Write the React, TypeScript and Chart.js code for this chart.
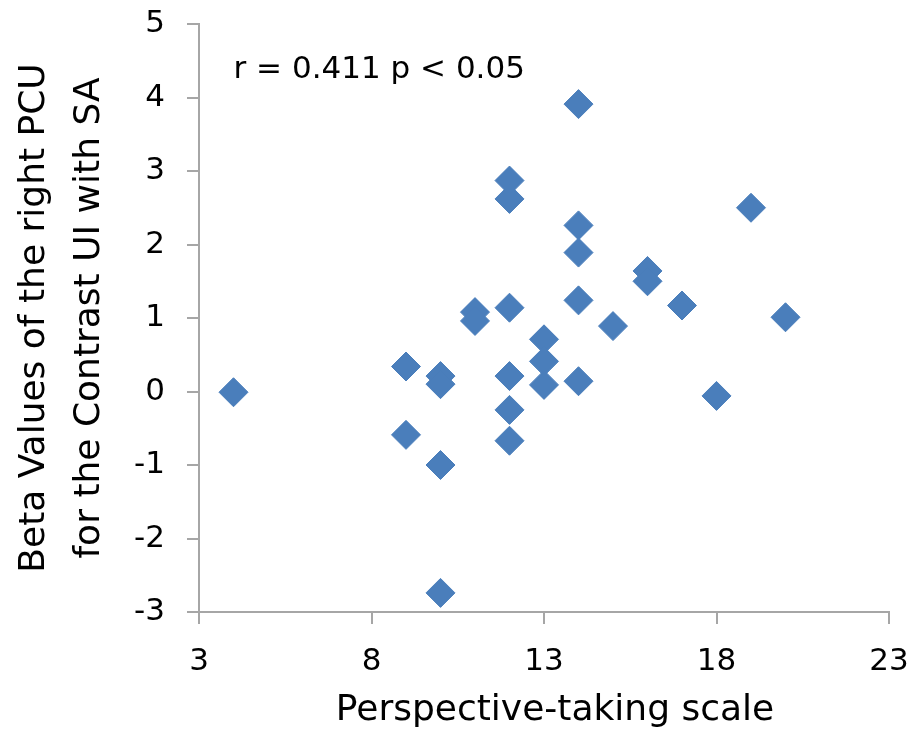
import React, { useEffect, useRef } from "react";
import { Chart, registerables } from "chart.js";

Chart.register(...registerables);

const xValues = [4, 9, 9, 10, 10, 10, 10, 11, 11, 12, 12, 12, 12, 12, 12, 13, 13, 13, 14, 14, 14, 14, 14, 15, 16, 16, 17, 18, 19, 20];
const yValues = [-0.01, 0.34, -0.59, 0.21, 0.1, -1.0, -2.74, 1.08, 0.96, 2.87, 2.62, 1.14, 0.21, -0.25, -0.67, 0.71, 0.41, 0.09, 3.91, 2.26, 1.89, 1.24, 0.14, 0.89, 1.64, 1.5, 1.17, -0.06, 2.5, 1.01];

const xAxisTitle = "Perspective-taking scale";
const yAxisTitle = ["Beta Values of the right PCU", "for the Contrast UI with SA"];
const annotationText = "r = 0.411 p < 0.05";
const annotationX = 4;
const annotationY = 4.27;

const xMin = 3, xMax = 23, xStep = 5;
const yMin = -3, yMax = 5, yStep = 1;

const FONT = "'DejaVu Sans', sans-serif";
const AXIS_COLOR = "#a6a6a6";
const POINT_COLOR = "#4a7ebb";

const textPlugin = {
  id: "extraText",
  afterDatasetsDraw(chart: any) {
    const { ctx, scales, chartArea } = chart;
    const px = scales.x.getPixelForValue(annotationX);
    const py = scales.y.getPixelForValue(annotationY);
    ctx.save();
    ctx.fillStyle = "#000";
    ctx.font = `31px ${FONT}`;
    ctx.textAlign = "left";
    ctx.textBaseline = "alphabetic";
    ctx.fillText(annotationText, px, py);
    // x-axis title, centred a little right of the plot centre as in the original
    ctx.font = `36px ${FONT}`;
    ctx.textAlign = "center";
    ctx.fillText(xAxisTitle, (chartArea.left + chartArea.right) / 2 + 11, chart.height - 10);
    ctx.restore();
  },
};

export default function App() {
  const canvasRef = useRef<HTMLCanvasElement | null>(null);

  useEffect(() => {
    document.body.style.margin = "0";
    const canvas = canvasRef.current;
    if (!canvas) return;
    const data = xValues.map((x, i) => ({ x, y: yValues[i] }));
    const chart = new Chart(canvas, {
      type: "scatter",
      data: {
        datasets: [
          {
            data,
            pointStyle: "rectRot",
            pointRadius: 14.5,
            pointHoverRadius: 14.5,
            backgroundColor: POINT_COLOR,
            borderColor: POINT_COLOR,
            borderWidth: 1,
          },
        ],
      },
      options: {
        animation: false,
        responsive: false,
        devicePixelRatio: 1,
        layout: { padding: { top: 24, right: 23, bottom: 0, left: 0 } },
        plugins: {
          legend: { display: false },
          tooltip: { enabled: false },
        },
        scales: {
          x: {
            type: "linear",
            min: xMin,
            max: xMax,
            afterFit: (scale: any) => {
              scale.height = 118;
              scale.paddingLeft = 0;
              scale.paddingRight = 0;
            },
            ticks: {
              stepSize: xStep,
              color: "#000",
              font: { family: FONT, size: 31 },
              padding: 19,
            },
            grid: {
              drawOnChartArea: false,
              drawTicks: true,
              tickLength: 12,
              color: AXIS_COLOR,
              lineWidth: 2,
            },
            border: { color: AXIS_COLOR, width: 2 },
            title: { display: false },
          },
          y: {
            type: "linear",
            min: yMin,
            max: yMax,
            afterFit: (scale: any) => {
              scale.width = 199;
              scale.paddingTop = 0;
              scale.paddingBottom = 0;
            },
            ticks: {
              stepSize: yStep,
              color: "#000",
              font: { family: FONT, size: 31 },
              padding: 22,
            },
            grid: {
              drawOnChartArea: false,
              drawTicks: true,
              tickLength: 12,
              color: AXIS_COLOR,
              lineWidth: 2,
            },
            border: { color: AXIS_COLOR, width: 2 },
            title: {
              display: true,
              text: yAxisTitle,
              color: "#000",
              font: { family: FONT, size: 36, lineHeight: 55 / 36 },
              padding: { top: 7, bottom: 0 },
            },
          },
        },
      },
      plugins: [textPlugin],
    });
    return () => chart.destroy();
  }, []);

  return (
    <div style={{ width: 912, height: 730, background: "#fff" }}>
      <canvas ref={canvasRef} width={912} height={730} style={{ display: "block", width: 912, height: 730 }} />
    </div>
  );
}
